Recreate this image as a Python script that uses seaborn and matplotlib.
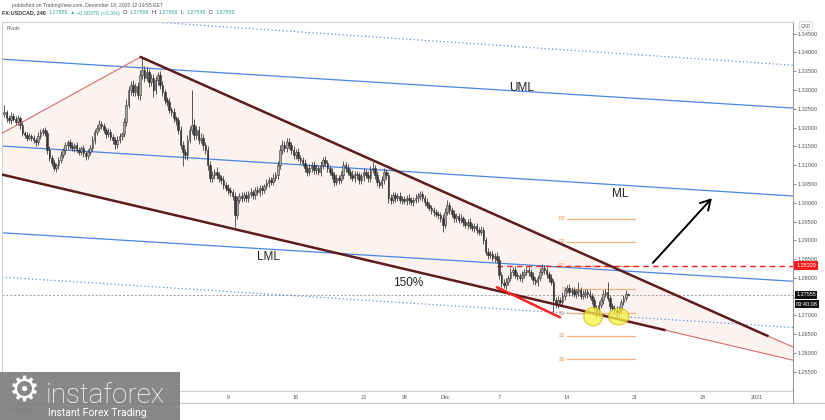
import numpy as np
import pandas as pd
import matplotlib
matplotlib.use("Agg")
import matplotlib.pyplot as plt
import seaborn as sns
from matplotlib.patches import Ellipse, Rectangle, Polygon
from matplotlib.lines import Line2D

# ---------------- data ----------------
open0 = 1.3236
closes = [
    1.3241, 1.3225, 1.3220, 1.3231, 1.3223, 1.3215,
    1.3225, 1.3207, 1.3185, 1.3180, 1.3172, 1.3177,
    1.3172, 1.3167, 1.3161, 1.3177, 1.3188, 1.3193,
    1.3185, 1.3140, 1.3119, 1.3106, 1.3092, 1.3100,
    1.3114, 1.3127, 1.3140, 1.3153, 1.3161, 1.3151,
    1.3145, 1.3153, 1.3140, 1.3135, 1.3145, 1.3132,
    1.3124, 1.3135, 1.3145, 1.3167, 1.3188, 1.3199,
    1.3209, 1.3204, 1.3193, 1.3183, 1.3188, 1.3175,
    1.3167, 1.3156, 1.3167, 1.3177, 1.3183, 1.3215,
    1.3260, 1.3300, 1.3313, 1.3294, 1.3310, 1.3286,
    1.3340, 1.3353, 1.3332, 1.3348, 1.3321, 1.3332,
    1.3300, 1.3326, 1.3340, 1.3313, 1.3294, 1.3273,
    1.3268, 1.3247, 1.3241, 1.3225, 1.3220, 1.3193,
    1.3153, 1.3135, 1.3127, 1.3167, 1.3193, 1.3207,
    1.3180, 1.3193, 1.3167, 1.3172, 1.3153, 1.3140,
    1.3100, 1.3066, 1.3074, 1.3082, 1.3073, 1.3066,
    1.3060, 1.3047, 1.3039, 1.3034, 1.3028, 1.3018,
    1.2967, 1.3007, 1.3018, 1.3012, 1.3020, 1.3012,
    1.3023, 1.3028, 1.3020, 1.3034, 1.3028, 1.3039,
    1.3034, 1.3044, 1.3052, 1.3060, 1.3055, 1.3066,
    1.3073, 1.3100, 1.3140, 1.3153, 1.3145, 1.3161,
    1.3153, 1.3140, 1.3127, 1.3135, 1.3119, 1.3114,
    1.3106, 1.3092, 1.3082, 1.3092, 1.3100, 1.3087,
    1.3092, 1.3082, 1.3100, 1.3114, 1.3106, 1.3092,
    1.3082, 1.3074, 1.3055, 1.3066, 1.3060, 1.3073,
    1.3100, 1.3092, 1.3082, 1.3074, 1.3066, 1.3076,
    1.3073, 1.3060, 1.3070, 1.3082, 1.3074, 1.3066,
    1.3087, 1.3092, 1.3074, 1.3055, 1.3047, 1.3060,
    1.3082, 1.3074, 1.3012, 1.3007, 1.3020, 1.3012,
    1.3018, 1.3007, 1.3010, 1.3004, 1.3012, 1.3007,
    1.3002, 1.3007, 1.3012, 1.3018, 1.3023, 1.3012,
    1.3002, 1.2994, 1.2986, 1.2981, 1.2975, 1.2970,
    1.2967, 1.2959, 1.2941, 1.2975, 1.2994, 1.2981,
    1.2970, 1.2959, 1.2964, 1.2954, 1.2959, 1.2949,
    1.2941, 1.2949, 1.2938, 1.2933, 1.2938, 1.2927,
    1.2922, 1.2927, 1.2901, 1.2869, 1.2861, 1.2863,
    1.2853, 1.2858, 1.2848, 1.2808, 1.2786, 1.2781,
    1.2789, 1.2800, 1.2816, 1.2821, 1.2808, 1.2805,
    1.2800, 1.2808, 1.2816, 1.2821, 1.2816, 1.2805,
    1.2794, 1.2789, 1.2800, 1.2816, 1.2826, 1.2821,
    1.2810, 1.2800, 1.2789, 1.2741, 1.2730, 1.2741,
    1.2736, 1.2752, 1.2768, 1.2773, 1.2762, 1.2768,
    1.2757, 1.2762, 1.2768, 1.2752, 1.2757, 1.2762,
    1.2757, 1.2752, 1.2741, 1.2720, 1.2709, 1.2728,
    1.2741, 1.2757, 1.2762, 1.2746, 1.2725, 1.2720,
    1.2715, 1.2709, 1.2715, 1.2736, 1.2746, 1.2757,
    1.27555,
]
up_wick_pips = [
    19, 6, 8, 10, 7, 9,   8, 7, 10, 6, 9, 8,   7, 9, 6, 10, 8, 7,
    9, 8, 10, 7, 9, 6,    8, 10, 7, 9, 6, 8,   10, 7, 9, 8, 6, 9,
    7, 9, 8, 10, 7, 8,    12, 8, 9, 7, 10, 8,  9, 7, 10, 8, 6, 10,
    15, 12, 10, 14, 9, 11, 12, 35, 10, 12, 9, 11, 10, 12, 9, 11, 10, 8,
    9, 11, 8, 10, 7, 9,   10, 12, 9, 14, 10, 93, 15, 12, 10, 14, 11, 9,
    12, 10, 11, 9, 12, 8, 9, 11, 8, 10, 7, 9,  10, 12, 9, 11, 8, 10,
    8, 10, 7, 9, 11, 8,   9, 7, 10, 8, 9, 11,  10, 12, 14, 15, 10, 12,
    11, 9, 10, 8, 12, 9,  9, 11, 8, 10, 9, 11, 10, 8, 12, 9, 10, 8,
    9, 11, 8, 10, 9, 12,  11, 9, 10, 8, 12, 9, 8, 10, 9, 11, 8, 10,
    10, 16, 9, 11, 8, 10, 11, 9, 8, 10, 9, 8,  8, 10, 7, 9, 8, 10,
    9, 8, 10, 7, 9, 8,    8, 10, 9, 7, 8, 9,   9, 8, 10, 11, 13, 9,
    8, 10, 9, 8, 10, 7,   9, 8, 10, 7, 9, 8,   8, 10, 9, 8, 10, 9,
    9, 8, 10, 9, 8, 10,   10, 9, 11, 8, 10, 9, 9, 11, 8, 10, 9, 8,
    10, 8, 9, 11, 10, 9,  9, 8, 10, 9, 8, 10,  8, 10, 9, 8, 10, 9,
    9, 8, 21, 9, 10, 8,   8, 10, 9, 8, 9, 10,  9, 10, 8, 27, 9, 8,
    8, 9, 10, 8, 9, 10,   4,
]
dn_wick_pips = [
    7, 9, 8, 10, 6, 8,    8, 10, 7, 9, 8, 6,   9, 7, 10, 8, 7, 9,
    8, 10, 9, 8, 8, 10,   9, 7, 8, 10, 9, 7,   8, 10, 7, 9, 8, 10,
    10, 8, 9, 7, 10, 8,   8, 9, 7, 10, 8, 9,   10, 12, 9, 8, 10, 9,
    10, 9, 12, 10, 11, 9, 12, 10, 11, 9, 12, 10, 19, 10, 12, 9, 11, 10,
    10, 9, 11, 10, 12, 10, 11, 38, 10, 12, 9, 11, 12, 10, 11, 9, 12, 10,
    14, 12, 10, 11, 9, 12, 9, 10, 8, 11, 9, 10, 32, 10, 9, 11, 8, 10,
    9, 8, 10, 9, 8, 10,   10, 9, 8, 10, 9, 8,  9, 10, 11, 9, 10, 11,
    10, 9, 11, 10, 9, 10, 9, 11, 10, 9, 11, 10, 10, 9, 11, 10, 9, 11,
    9, 10, 11, 9, 10, 8,  10, 9, 8, 10, 9, 11, 9, 10, 9, 11, 8, 10,
    10, 9, 11, 10, 9, 8,  9, 10, 12, 10, 9, 10, 8, 9, 10, 8, 9, 10,
    9, 10, 8, 9, 10, 8,   10, 8, 9, 10, 9, 8,  9, 10, 19, 9, 8, 10,
    8, 9, 10, 8, 9, 10,   9, 10, 8, 9, 10, 9,  8, 9, 10, 9, 10, 8,
    9, 10, 9, 10, 9, 8,   10, 9, 8, 10, 9, 10, 9, 10, 9, 8, 10, 9,
    10, 9, 10, 9, 8, 10,  9, 10, 9, 32, 10, 9, 10, 9, 10, 8, 9, 10,
    9, 10, 9, 8, 9, 10,   10, 9, 10, 9, 16, 10, 9, 10, 9, 8, 10, 9,
    10, 16, 9, 10, 9, 8,  1,
]
assert len(closes) == len(up_wick_pips) == len(dn_wick_pips)

date_tick_idx = [99, 129, 159, 177, 195, 219, 249, 279, 309, 333]
date_tick_labels = ["9", "16", "23", "26", "Dec", "7", "14", "21", "28", "2021"]
price_ticks = [1.255, 1.260, 1.265, 1.270, 1.275, 1.280, 1.285, 1.290, 1.295, 1.300,
               1.305, 1.310, 1.315, 1.320, 1.325, 1.330, 1.335, 1.340, 1.345]
price_tick_labels = ["1.25500", "1.26000", "1.26500", "1.27000", "", "1.28000", "1.28500",
                     "1.29000", "1.29500", "1.30000", "1.30500", "1.31000", "1.31500",
                     "1.32000", "1.32500", "1.33000", "1.33500", "1.34000", "1.34500"]

# drawn tools (candle index, price)
fork_names = ["upper_dotted", "UML", "ML", "LML", "lower_dotted"]
fork_x = [-1, 349]
fork_y = {"upper_dotted": [1.3508, 1.3366], "UML": [1.3382, 1.3252],
          "ML": [1.3151, 1.3018], "LML": [1.2920, 1.2791],
          "lower_dotted": [1.2802, 1.2668]}
wedge_left_x, wedge_left_y = [-1, 60.3], [1.3185, 1.3388]
wedge_top_x, wedge_top_y = [60.3, 338.0], [1.3388, 1.2645]
wedge_top_ext_x, wedge_top_ext_y = [338.0, 349], [1.2645, 1.2616]
wedge_bot_x, wedge_bot_y = [-1, 292.4], [1.3075, 1.2661]
wedge_bot_ext_x, wedge_bot_ext_y = [292.4, 349], [1.2661, 1.2581]
red_seg_x, red_seg_y = [218.0, 245.9], [1.2775, 1.2695]
arrow_from, arrow_to = (287.0, 1.2840), (313.1, 1.3012)
circles = [(260.6, 1.2697, 8.3, 0.0049), (271.9, 1.2697, 9.1, 0.0044)]
resistance = 1.28329
last_price = 1.27555
resistance_start = 218.0
pivot_labels = ["R3", "R2", "R1", "P", "S1", "S2", "S3"]
pivot_values = [1.2958, 1.2896, 1.2832, 1.2770, 1.2706, 1.2646, 1.2584]
pivot_span = [249, 279]
chart_labels = [("UML", 229.1, 1.3305), ("ML", 272.4, 1.3024),
                ("LML", 116.7, 1.2855), ("150%", 178.6, 1.2786)]

# ---------------- style ----------------
sns.set_style("white")
plt.rcParams['font.family'] = ['Liberation Sans', 'DejaVu Sans']

W, H = 825, 420
fig = plt.figure(figsize=(W / 100, H / 100), dpi=100)
ax = fig.add_axes([2 / W, 29 / H, 791 / W, 369 / H])
ax.set_xlim(-1, 349)
ax.set_ylim(1.2499, 1.3481)

def fx(x):
    return x / W

def fy(y):
    return 1 - y / H

# wedge fill
ax.add_patch(Polygon([(wedge_left_x[0], wedge_left_y[0]), (wedge_top_x[0], wedge_top_y[0]),
                      (wedge_top_ext_x[1], wedge_top_ext_y[1]),
                      (wedge_bot_ext_x[1], wedge_bot_ext_y[1]), (wedge_bot_x[0], wedge_bot_y[0])],
                     closed=True, facecolor="#fcf3f0", edgecolor="none", zorder=0.5))

# pitchfork lines
blue = "#4a84e4"
for name in fork_names:
    dotted = "dotted" in name
    sns.lineplot(x=fork_x, y=fork_y[name], ax=ax, color=blue if not dotted else "#5b8fe8",
                 lw=0.9, linestyle=(0, (1, 2)) if dotted else "-",
                 estimator=None, sort=False, zorder=2)

# current price line and resistance
ax.axhline(last_price, color="#9a9a9a", lw=0.7, ls=(0, (2, 2)), zorder=1.5)
sns.lineplot(x=[resistance_start, 349], y=[resistance, resistance], ax=ax, color="#ff1a1a",
             lw=1.0, linestyle=(0, (4, 3)), estimator=None, sort=False, zorder=2.5)

# pivots
for lab, val in zip(pivot_labels, pivot_values):
    ax.plot(pivot_span, [val, val], color="#f2b07a", lw=0.9, zorder=2)
    ax.text(pivot_span[0] - 0.8, val, lab, fontsize=3.6, color="#e9904a",
            ha="right", va="center", zorder=2)

# candles
idx = np.arange(len(closes))
c = np.array(closes)
o = np.array([open0] + closes[:-1])
hi = np.maximum(o, c) + np.array(up_wick_pips) * 1e-4
lo = np.minimum(o, c) - np.array(dn_wick_pips) * 1e-4
up = c >= o
ax.vlines(idx, lo, hi, color="#3c3c3c", lw=0.6, zorder=3)
ax.bar(idx[up], (c - o)[up], bottom=o[up], width=0.72, color="#a8a8a8",
       edgecolor="#3a3a3a", lw=0.4, zorder=4)
ax.bar(idx[~up], (c - o)[~up], bottom=o[~up], width=0.72, color="#333333",
       edgecolor="#333333", lw=0.4, zorder=4)

# wedge lines
maroon = "#5e1b1b"
thin_red = "#d96a6a"
sns.lineplot(x=wedge_left_x, y=wedge_left_y, ax=ax, color=thin_red, lw=0.8, estimator=None, sort=False, zorder=5)
sns.lineplot(x=wedge_top_x, y=wedge_top_y, ax=ax, color=maroon, lw=1.8, estimator=None, sort=False, zorder=5)
sns.lineplot(x=wedge_top_ext_x, y=wedge_top_ext_y, ax=ax, color=thin_red, lw=0.8, estimator=None, sort=False, zorder=5)
sns.lineplot(x=wedge_bot_x, y=wedge_bot_y, ax=ax, color=maroon, lw=1.8, estimator=None, sort=False, zorder=5)
sns.lineplot(x=wedge_bot_ext_x, y=wedge_bot_ext_y, ax=ax, color=thin_red, lw=0.8, estimator=None, sort=False, zorder=5)
sns.lineplot(x=red_seg_x, y=red_seg_y, ax=ax, color="#ff2020", lw=1.8, estimator=None, sort=False, zorder=5)

# circles
for cx, cy, w, h in circles:
    ax.add_patch(Ellipse((cx, cy), w, h, facecolor="#f8f244", alpha=0.75,
                         edgecolor="#c9b800", lw=0.8, zorder=6))

# arrow
ax.annotate("", xy=arrow_to, xytext=arrow_from,
            arrowprops=dict(arrowstyle="->,head_length=0.7,head_width=0.4", color="black",
                            lw=1.4, shrinkA=0, shrinkB=0), zorder=6)

# labels on chart
for txt, x, y in chart_labels:
    ax.text(x, y, txt, fontsize=8.5, color="#222222", ha="center", va="center", zorder=6)

# axes styling
ax.set_xlabel("")
ax.set_ylabel("")
for s in ["top", "left", "bottom"]:
    ax.spines[s].set_color("#cfcfcf")
    ax.spines[s].set_linewidth(0.8)
ax.spines["right"].set_color("#9a9a9a")
ax.spines["right"].set_linewidth(0.8)
ax.yaxis.tick_right()
ax.set_yticks(price_ticks)
ax.set_yticklabels(price_tick_labels)
ax.tick_params(axis="y", labelsize=4, colors="#555555", length=2, width=0.5, pad=1.5)
ax.set_xticks(date_tick_idx)
ax.set_xticklabels(date_tick_labels)
ax.tick_params(axis="x", labelsize=4, colors="#555555", length=1.5, width=0.5, pad=1.2)

# price tags
tag = dict(fontsize=4, color="white", ha="left", va="center", annotation_clip=False, zorder=10)
ax.annotate(f"{resistance:.5f}", xy=(1.004, resistance), xycoords=("axes fraction", "data"),
            bbox=dict(boxstyle="square,pad=0.3", fc="#ff1a1a", ec="none"), **tag)
ax.annotate(f"{last_price:.5f}", xy=(1.004, last_price), xycoords=("axes fraction", "data"),
            bbox=dict(boxstyle="square,pad=0.25", fc="#111111", ec="none"), **tag)
ax.annotate("03:40:08", xy=(1.004, last_price), xycoords=("axes fraction", "data"),
            xytext=(0, -6.8), textcoords="offset points",
            bbox=dict(boxstyle="square,pad=0.25", fc="#111111", ec="none"), **tag)

# frame extras
fig.add_artist(Line2D([fx(2), fx(825)], [fy(403), fy(403)], color="#c8c8c8", lw=0.8))
fig.add_artist(Line2D([fx(2), fx(2)], [fy(391), fy(403)], color="#cfcfcf", lw=0.8))
fig.add_artist(Line2D([fx(793), fx(793)], [fy(391), fy(403)], color="#9a9a9a", lw=0.8))
fig.text(fx(806), fy(26), "CAD", fontsize=3.5, color="#555555", ha="center", va="center",
         bbox=dict(boxstyle="round,pad=0.35", fc="white", ec="#c8c8c8", lw=0.5))
fig.text(fx(7), fy(28), "Pivots", fontsize=3.6, color="#555555", ha="left", va="center")

# header
fig.text(fx(88), fy(5), "published on TradingView.com, December 18, 2020 12:19:55 EET",
         fontsize=3.7, color="#555555", ha="center", va="center")
dark, teal = "#333333", "#33a99b"
segs = [("FX:USDCAD, 240", dark, "bold", 0), ("1.27555", teal, "normal", 2.0),
        ("\u25b2", teal, "normal", 1.0), ("+0.00378 (+0.3%)", teal, "normal", 1.0),
        ("O:", dark, "normal", 2.0), ("1.27598", teal, "normal", 0.8),
        ("H:", dark, "normal", 2.0), ("1.27598", teal, "normal", 0.8),
        ("L:", dark, "normal", 2.0), ("1.27545", teal, "normal", 0.8),
        ("C:", dark, "normal", 2.0), ("1.27555", teal, "normal", 0.8)]
t = fig.text(fx(2), fy(13), segs[0][0], fontsize=3.9, color=segs[0][1],
             fontweight=segs[0][2], ha="left", va="center")
for txt, col, wt, gap in segs[1:]:
    t = ax.annotate(txt, xy=(1, 0.5), xycoords=t, xytext=(gap, 0), textcoords="offset points",
                    fontsize=3.9, color=col, fontweight=wt, ha="left", va="center",
                    family=["Liberation Sans", "DejaVu Sans"])

# instaforex logo
fig.text(fx(8), fy(410), "TradingView", fontsize=3.5, color="#5d6f86", ha="left", va="center")
fig.add_artist(Rectangle((0, fy(420)), fx(180), fy(372) - fy(420), transform=fig.transFigure,
                         facecolor="#7b7b7b", edgecolor="none", alpha=0.9, zorder=20))
fig.text(fx(24), fy(391), "\u2699", fontsize=25, color="white", ha="center", va="center",
         family=["DejaVu Sans"], zorder=21)
fig.text(fx(46), fy(403), "instaforex", fontsize=20, color="white", ha="left", va="baseline",
         family=["Roboto", "DejaVu Sans"], fontweight="light", zorder=21)
fig.text(fx(48), fy(416), "Instant Forex Trading", fontsize=7.5, color="white", ha="left",
         va="baseline", family=["Roboto", "DejaVu Sans"], zorder=21)

fig.savefig("out.png", dpi=100)
